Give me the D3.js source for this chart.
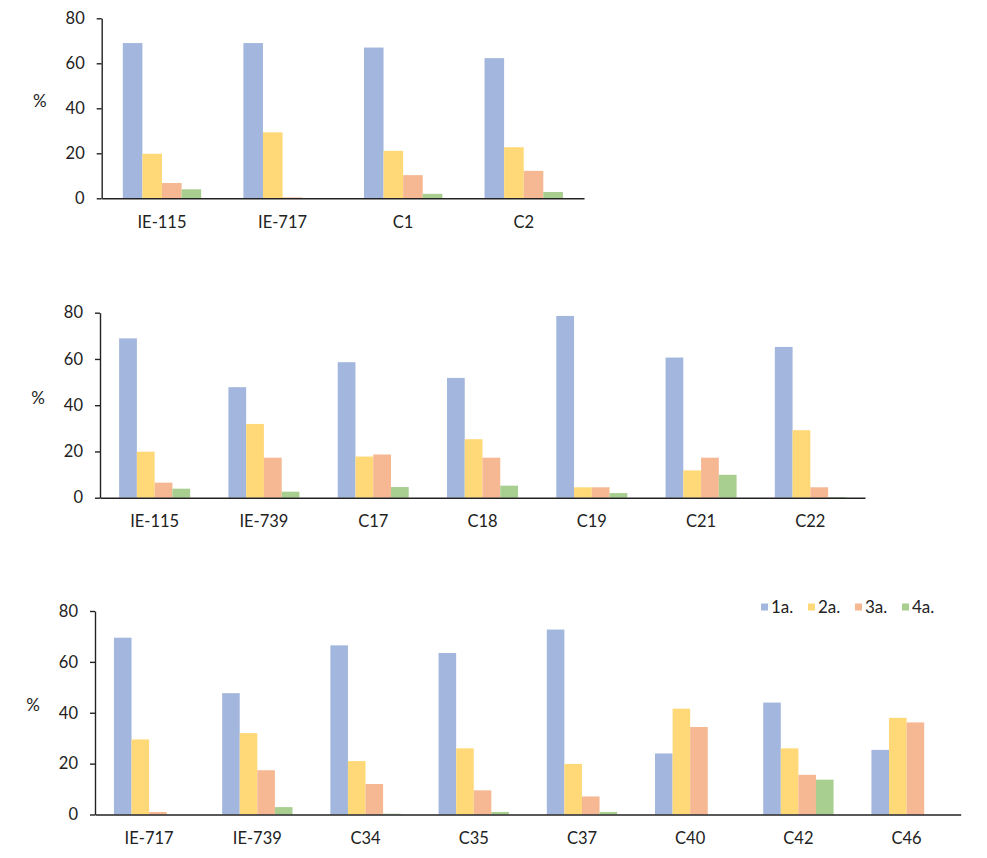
<!DOCTYPE html>
<html>
<head>
<meta charset="utf-8">
<script src="https://cdn.jsdelivr.net/npm/d3@7"></script>
<style>
  html, body { margin: 0; padding: 0; background: #fff; }
  svg { display: block; }
  text { font-family: Lato, "Open Sans", sans-serif; fill: #222; }
</style>
</head>
<body>
<svg id="chart" width="987" height="858"></svg>
<script>
// ---- Data ----
const seriesNames = ["1a.", "2a.", "3a.", "4a."];
const yTicks = [0, 20, 40, 60, 80];

const categories1 = ["IE-115", "IE-717", "C1", "C2"];
const s1a_1 = [69.0, 69.0, 67.0, 62.3];
const s2a_1 = [19.8, 29.3, 21.1, 22.7];
const s3a_1 = [6.8, 0.4, 10.3, 12.2];
const s4a_1 = [4.0, 0, 2.0, 2.8];

const categories2 = ["IE-115", "IE-739", "C17", "C18", "C19", "C21", "C22"];
const s1a_2 = [68.9, 47.8, 58.6, 51.8, 78.6, 60.6, 65.2];
const s2a_2 = [19.9, 31.9, 17.8, 25.3, 4.5, 11.8, 29.2];
const s3a_2 = [6.5, 17.3, 18.7, 17.3, 4.5, 17.3, 4.5];
const s4a_2 = [3.9, 2.6, 4.6, 5.2, 2.0, 9.9, 0.3];

const categories3 = ["IE-717", "IE-739", "C34", "C35", "C37", "C40", "C42", "C46"];
const s1a_3 = [69.5, 47.7, 66.5, 63.5, 72.7, 24.0, 44.0, 25.4];
const s2a_3 = [29.5, 32.0, 21.0, 26.0, 19.9, 41.6, 26.0, 38.0];
const s3a_3 = [1.0, 17.4, 12.0, 9.5, 7.1, 34.4, 15.6, 36.2];
const s4a_3 = [0, 2.9, 0.3, 1.0, 1.0, 0, 13.7, 0];

// ---- Styles / layout ----
const colors = ["#a3b7de", "#ffd978", "#f5b893", "#a8cf8f"];

const panels = [
  { cats: categories1, series: [s1a_1, s2a_1, s3a_1, s4a_1], left: 101.7, right: 584, top: 18.3, bottom: 198.3, legend: false },
  { cats: categories2, series: [s1a_2, s2a_2, s3a_2, s4a_2], left: 100, right: 865, top: 312.7, bottom: 497.7, legend: false },
  { cats: categories3, series: [s1a_3, s2a_3, s3a_3, s4a_3], left: 95, right: 960.7, top: 611, bottom: 814.5, legend: true }
];

const svg = d3.select("#chart");

panels.forEach(p => {
  const g = svg.append("g");
  const x = d3.scaleBand().domain(p.cats).range([p.left, p.right]).paddingInner(0.35).paddingOuter(0.175);
  const xs = d3.scaleBand().domain(seriesNames).range([0, x.bandwidth()]);
  const y = d3.scaleLinear().domain([0, 80]).range([p.bottom, p.top]);

  // bars
  p.series.forEach((vals, si) => {
    g.append("g").selectAll("rect").data(p.cats.map((c, i) => ({ c, v: vals[i] })))
      .join("rect")
      .attr("x", d => x(d.c) + xs(seriesNames[si]))
      .attr("width", xs.bandwidth())
      .attr("y", d => y(d.v))
      .attr("height", d => y(0) - y(d.v))
      .attr("fill", colors[si]);
  });

  // y axis
  const ya = g.append("g").attr("transform", `translate(${p.left},0)`)
    .call(d3.axisLeft(y).tickValues(yTicks).tickSize(5).tickPadding(12).tickSizeOuter(0));
  ya.select(".domain").attr("stroke", "#222").attr("stroke-width", 1.4);
  ya.selectAll(".tick line").attr("stroke", "#222").attr("stroke-width", 1.4);
  ya.selectAll(".tick text").attr("font-size", 16.5).attr("font-family", "Lato, 'Open Sans', sans-serif").attr("fill", "#222");

  // x axis
  const xa = g.append("g").attr("transform", `translate(0,${p.bottom})`)
    .call(d3.axisBottom(x).tickSize(0).tickPadding(18).tickSizeOuter(0));
  xa.select(".domain").attr("stroke", "#222").attr("stroke-width", 1.4);
  xa.selectAll(".tick text").attr("font-size", 16.5).attr("font-family", "Lato, 'Open Sans', sans-serif").attr("fill", "#222");

  // y label
  g.append("text")
    .attr("x", p.left - 62)
    .attr("y", (p.top + p.bottom) / 2 - 6)
    .attr("text-anchor", "middle")
    .attr("dominant-baseline", "middle")
    .attr("font-size", 17)
    .text("%");

  if (p.legend) {
    const lg = g.append("g").attr("transform", "translate(761,607)");
    seriesNames.forEach((n, i) => {
      const it = lg.append("g").attr("transform", `translate(${i * 47},0)`);
      it.append("rect").attr("x", 0).attr("y", -3.5).attr("width", 7).attr("height", 7).attr("fill", colors[i]);
      it.append("text").attr("x", 10).attr("y", 0).attr("dy", "0.36em").attr("font-size", 17).text(n);
    });
  }
});
</script>
</body>
</html>
